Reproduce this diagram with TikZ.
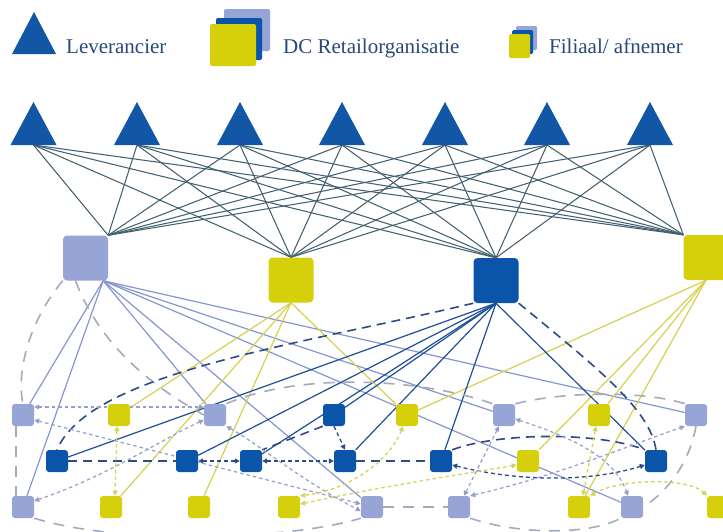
\documentclass[tikz,border=0pt]{standalone}
\usepackage{fontspec}
\setmainfont{Liberation Serif}
\usetikzlibrary{arrows.meta,backgrounds}
\definecolor{tri}{RGB}{18,86,166}
\definecolor{lb}{RGB}{150,164,214}
\definecolor{db}{RGB}{10,84,170}
\definecolor{ye}{RGB}{214,207,12}
\definecolor{topl}{RGB}{66,96,112}
\definecolor{lbl}{RGB}{135,150,208}
\definecolor{yel}{RGB}{214,210,80}
\definecolor{dbl}{RGB}{30,78,150}
\definecolor{gdash}{RGB}{165,170,190}
\definecolor{lbdash}{RGB}{150,158,205}
\definecolor{dbdash}{RGB}{45,75,135}
\definecolor{ydash}{RGB}{214,210,90}
\definecolor{txt}{RGB}{40,72,120}
\tikzset{
  dc/.style={minimum size=45pt, inner sep=0pt, rounded corners=4pt, fill=#1},
  st/.style={minimum size=22pt, inner sep=0pt, rounded corners=3pt, fill=#1},
  topline/.style={draw=topl, line width=1.05pt},
  lbline/.style={draw=lbl, line width=1.2pt},
  yline/.style={draw=yel, line width=1.2pt},
  dline/.style={draw=dbl, line width=1.2pt},
  gl/.style={draw=gdash, line width=1.6pt, dash pattern=on 11pt off 9pt},
  dlong/.style={draw=dbdash, line width=1.6pt, dash pattern=on 9pt off 6pt},
  ds/.style={draw=dbdash, line width=1.3pt, dash pattern=on 4pt off 3pt},
  ls/.style={draw=lbdash, line width=1.2pt, dash pattern=on 3.5pt off 3pt},
  ys/.style={draw=ydash, line width=1.3pt, dash pattern=on 3.5pt off 3pt},
  legtext/.style={anchor=base west, text=txt, inner sep=0pt, font=\fontsize{21}{21}\selectfont}
}
\begin{document}
\begin{tikzpicture}[x=1pt,y=-1pt,>={Triangle[length=5pt,width=5pt]}]
\useasboundingbox (0,0) rectangle (723,531);
% legend
\fill[tri] (12,54) -- (56,54) -- (34,12) -- cycle;
\node[legtext] (t1) at (66,53) {Leverancier};
\fill[lb,rounded corners=2pt] (224,9) rectangle (270,51);
\fill[db,rounded corners=2pt] (216,18) rectangle (262,60);
\fill[ye,rounded corners=2pt] (210,24) rectangle (256,66);
\node[legtext] (t2) at (283,53) {DC Retailorganisatie};
\fill[lb,rounded corners=1.5pt] (516,26) rectangle (537,50);
\fill[db,rounded corners=1.5pt] (512,30) rectangle (533,54);
\fill[ye,rounded corners=1.5pt] (509,34) rectangle (530,58);
\node[legtext] (t3) at (549,53) {Filiaal/ afnemer};
% suppliers
\foreach \i/\x in {1/33.5,2/137,3/240,4/342,5/445,6/547,7/650}{
  \fill[tri] ({\x-23},145) -- ({\x+23},145) -- (\x,102) -- cycle;
  \coordinate (s\i) at (\x,145);
}
% DCs
\node[dc=lb] (d1) at (85.5,258) {};
\node[dc=ye] (d2) at (291,280) {};
\node[dc=db] (d3) at (496,280.5) {};
\node[dc=ye] (d4) at (706,257.5) {};
\coordinate (d1o) at ([xshift=-5pt]d1.south east);
% stores row 1
\node[st=lb] (a1) at (23,415) {};
\node[st=ye] (a2) at (119,415) {};
\node[st=lb] (a3) at (215,415) {};
\node[st=db] (a4) at (334,415) {};
\node[st=ye] (a5) at (407,415) {};
\node[st=lb] (a6) at (504,415) {};
\node[st=ye] (a7) at (599,415) {};
\node[st=lb] (a8) at (696,415) {};
% row 2
\node[st=db] (b1) at (57,461) {};
\node[st=db] (b2) at (187,461) {};
\node[st=db] (b3) at (251,461) {};
\node[st=db] (b4) at (345,461) {};
\node[st=db] (b5) at (441,461) {};
\node[st=ye] (b6) at (528,461) {};
\node[st=db] (b7) at (656,461) {};
% row 3
\node[st=lb] (c1) at (23,507) {};
\node[st=ye] (c2) at (111,507) {};
\node[st=ye] (c3) at (199,507) {};
\node[st=ye] (c4) at (289,507) {};
\node[st=lb] (c5) at (372,507) {};
\node[st=lb] (c6) at (459,507) {};
\node[st=ye] (c7) at (579,507) {};
\node[st=lb] (c8) at (632,507) {};
\node[st=ye] (c9) at (718,507) {};
\begin{pgfonlayer}{background}
\fill[white] (0,0) rectangle (723,531);
% supplier -> DC
\foreach \i in {1,...,7}{
  \draw[topline] (s\i) -- (d1.north east);
  \draw[topline] (s\i) -- (d2.north);
  \draw[topline] (s\i) -- (d3.north);
  \draw[topline] (s\i) -- (d4.north west);
}
% DC -> stores
\foreach \t in {a1,c1,a3,c5,a6,c8,a8} \draw[lbline] (d1o) -- (\t);
\foreach \t in {a2,c2,c3,a5} \draw[yline] (d2.south) -- (\t);
\foreach \t in {a5,b6,a7,c7} \draw[yline] (d4.south) -- (\t);
\foreach \t in {a4,b1,b2,b3,b4,b5,b7} \draw[dline] (d3.south) -- (\t);
% grey long dashes
\draw[gl] (d1.south west) .. controls (30,320) and (16,370) .. (a1.north);
\draw[gl] ([xshift=-7pt]a1.south) -- ([xshift=-7pt]c1.north);
\draw[gl] (c1.south east) .. controls (120,545) and (290,540) .. (c5.south west);
\draw[gl] (c5.east) -- (c6.west);
\draw[gl] (c6.south east) .. controls (520,535) and (590,535) .. (c8.south west);
\draw[gl] ([xshift=-10pt]d1.south) .. controls (100,345) and (150,385) .. (a3.west);
\draw[gl] (a3.north east) .. controls (300,372) and (420,378) .. (a6.north west);
\draw[gl] (a6.north east) .. controls (570,390) and (650,392) .. (a8.north west);
\draw[gl] (a8.south) .. controls (690,460) and (670,490) .. (c8.east);
% dark blue dashes
\draw[dlong] (d3.south west) .. controls (300,345) and (90,372) .. (b1.north);
\draw[dlong] (d3.south east) .. controls (600,370) and (650,410) .. (b7.north);
\draw[dlong] (b1.east) -- (b2.west);
\draw[dlong] (b4.east) -- (b5.west);
\draw[dlong] (b5.north east) .. controls (500,432) and (600,432) .. (b7.north west);
\draw[dlong] (a4.south west) -- (b3.north east);
\draw[ds,<->] (b2.east) -- (b3.west);
\draw[ds,<->] (b3.east) -- (b4.west);
\draw[ds,<->] ([yshift=-4pt]b5.east) .. controls (520,482) and (590,482) .. ([yshift=-4pt]b7.west);
\draw[ds,->] (a4.south) -- (b4.north);
% light blue short dashes
\draw[ls,<->] ([yshift=8pt]a1.east) -- ([yshift=8pt]a3.west);
\draw[ls,<->] ([yshift=-5pt]a1.east) -- ([yshift=3pt]c5.west);
\draw[ls,<->] ([yshift=6pt]c1.east) .. controls (110,475) and (160,440) .. ([yshift=-5pt]a3.west);
\draw[ls,<->] (a3.south east) .. controls (260,445) and (300,480) .. ([yshift=-4pt]c5.west);
\draw[ls,<->] ([xshift=-5pt]a6.south) -- ([xshift=5pt]c6.north);
\draw[ls,<->] (c6.north east) .. controls (560,475) and (630,445) .. (a8.south west);
\draw[ls,<->] ([yshift=-4pt]a6.east) .. controls (580,440) and (615,460) .. ([xshift=-4pt]c8.north);
% yellow short dashes
\draw[ys,<->] ([xshift=-2pt]a2.south) -- ([xshift=4pt]c2.north);
\draw[ys,<->] ([yshift=3pt]c4.east) .. controls (380,487) and (450,476) .. ([yshift=-4pt]b6.west);
\draw[ys,<->] ([xshift=-4pt]a5.south) .. controls (390,460) and (350,490) .. (c4.north east);
\draw[ys,<->] ([xshift=-3pt]a7.south) -- ([xshift=4pt]c7.north);
\draw[ys,<->] (c7.north east) .. controls (620,478) and (690,478) .. (c9.north west);
\end{pgfonlayer}
\end{tikzpicture}
\end{document}
